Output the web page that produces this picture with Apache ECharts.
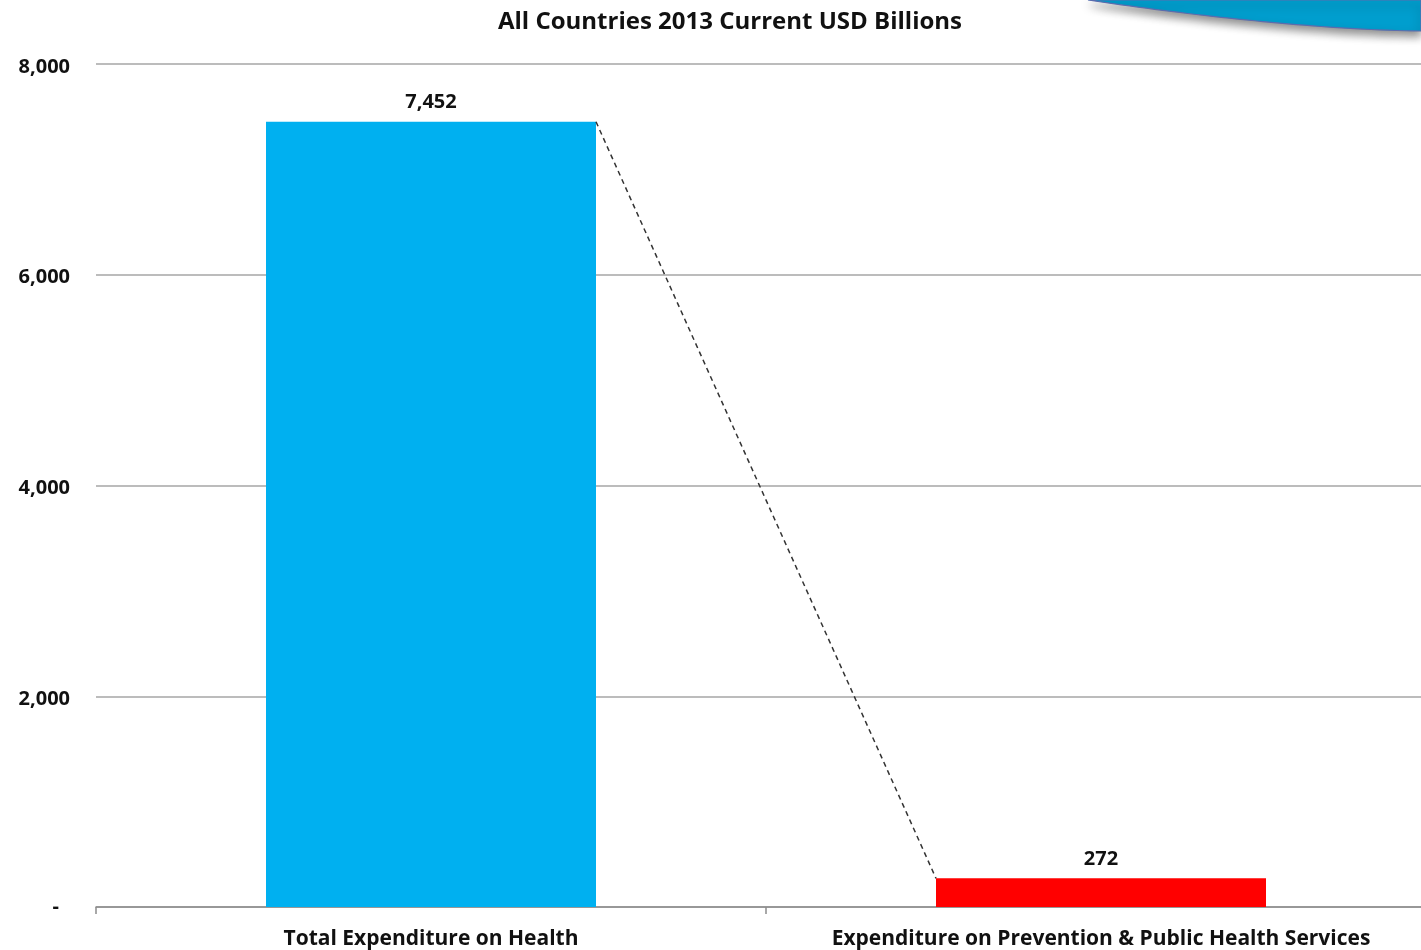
<!DOCTYPE html>
<html><head><meta charset="utf-8">
<script src="https://cdn.jsdelivr.net/npm/echarts@6/dist/echarts.min.js"></script>
<style>html,body{margin:0;padding:0;background:#fff;overflow:hidden;width:1421px;height:950px}#c{width:1436px;height:950px}</style>
</head><body><div id="c"></div>
<script>
const titleText = 'All Countries 2013 Current USD Billions';
const categories = ['Total Expenditure on Health', 'Expenditure on Prevention & Public Health Services'];
const values = [7452, 272];
const barColors = ['#00B0F0', '#FF0000'];
const yTicks = [0, 2000, 4000, 6000, 8000];

const BAR_W = 330;
const FONT = '"Open Sans", Lato, sans-serif';

// decorative swoosh outline (top-right corner)
const swoosh = [];
for (let i = 0; i <= 40; i++) {
  const t = i / 40;
  const x = 1088 + (1421 - 1088) * t;
  const y = 31 * (1 - Math.pow(1 - t, 1.6));
  swoosh.push([x, y]);
}
swoosh.push([1421, 0]);

const chart = echarts.init(document.getElementById('c'));
chart.setOption({
  animation: false,
  title: { text: titleText, left: 725, textAlign: 'center', top: 5,
    textStyle: { fontFamily: FONT, fontWeight: 'bold', fontSize: 24, color: '#111' } },
  grid: { left: 96, top: 64, right: 0, bottom: 43, containLabel: false },
  xAxis: {
    type: 'category', data: categories,
    axisLine: { lineStyle: { color: '#8c8c8c', width: 1.5 } },
    axisTick: { show: true, length: 7, inside: false, lineStyle: { color: '#8c8c8c', width: 1.5 } },
    axisLabel: { fontFamily: FONT, fontWeight: 'bold', fontSize: 21, color: '#111', margin: 22, interval: 0 }
  },
  yAxis: {
    type: 'value', min: 0, max: 8000, interval: 2000,
    axisLine: { show: false }, axisTick: { show: false },
    splitLine: { lineStyle: { color: '#a6a6a6', width: 1.5 } },
    axisLabel: { fontFamily: FONT, fontWeight: 'bold', fontSize: 20, color: '#111', margin: 26,
      formatter: v => v === 0 ? '{z|-}' : '{n|' + v.toLocaleString('en-US') + '}',
      rich: {
        n: { fontFamily: FONT, fontWeight: 'bold', fontSize: 20, color: '#111', padding: [6, 0, 0, 0] },
        z: { fontFamily: FONT, fontWeight: 'bold', fontSize: 20, color: '#111', padding: [0, 11, 0, 0] }
      } }
  },
  graphic: [{
    type: 'polygon', silent: true, z: 100,
    shape: { points: swoosh },
    style: { fill: '#009ECE', stroke: '#5b6cae', lineWidth: 1.2,
      shadowBlur: 10, shadowColor: 'rgba(0,0,0,0.45)', shadowOffsetY: 5 }
  }],
  series: [{
    type: 'bar', barWidth: BAR_W,
    data: values.map((v, i) => ({ value: v, itemStyle: { color: barColors[i] } })),
    label: { show: true, position: 'top', distance: 9, fontFamily: FONT, fontWeight: 'bold', fontSize: 20, color: '#111',
      formatter: p => p.value.toLocaleString('en-US') }
  }, {
    type: 'custom', silent: true, z: 5,
    data: [[0, values[0], 1, values[1]]],
    renderItem: (params, api) => {
      const p1 = api.coord([api.value(0), api.value(1)]);
      const p2 = api.coord([api.value(2), api.value(3)]);
      return { type: 'line',
        shape: { x1: p1[0] + BAR_W / 2, y1: p1[1], x2: p2[0] - BAR_W / 2, y2: p2[1] },
        style: { stroke: '#333', lineWidth: 1.5, lineDash: [5, 4] } };
    }
  }]
});
</script></body></html>
